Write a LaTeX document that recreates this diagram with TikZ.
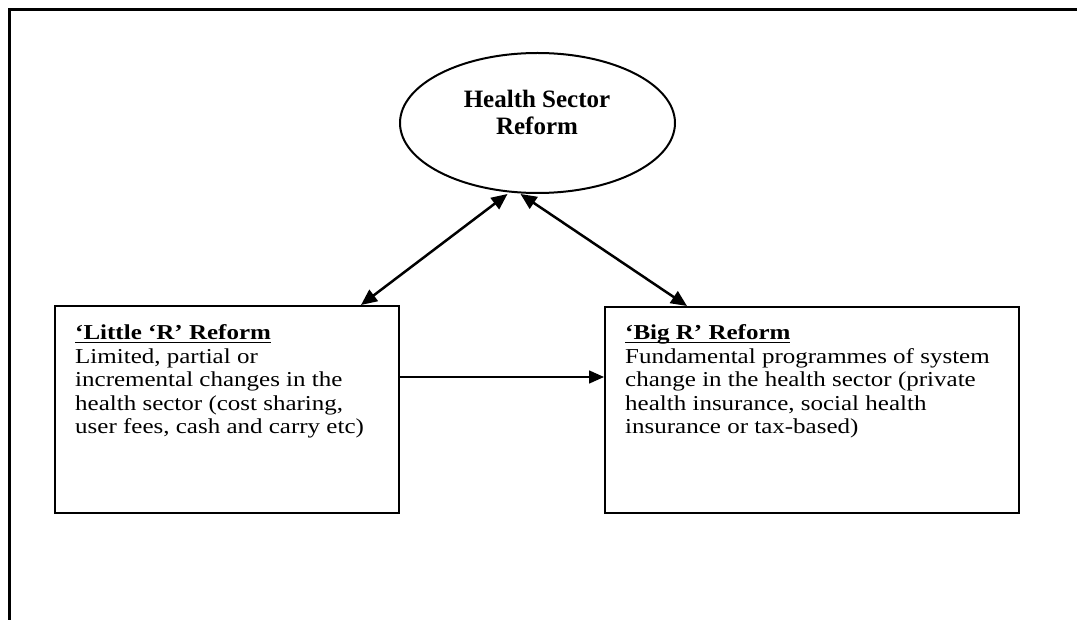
\documentclass[tikz,border=0pt]{standalone}
\usepackage{graphicx}
\usepackage{fontspec}
\setmainfont{Liberation Serif}
\usetikzlibrary{arrows.meta,shapes.geometric}
\newcommand\myul[1]{\setbox0\hbox{#1}\rlap{\rule[-4pt]{\wd0}{2pt}}\box0}
\newcommand\sq[1]{\scalebox{1}[0.85]{#1}}
\tikzset{
  frameline/.style={line width=3pt},
  oval/.style={draw, ellipse, line width=2pt, inner sep=0pt},
  box/.style={draw, rectangle, line width=2pt, inner sep=0pt},
  boxline/.style={inner sep=0pt, anchor=base west, font=\fontsize{25}{25}\selectfont},
  ovalline/.style={inner sep=0pt, anchor=base, font=\bfseries\fontsize{25}{27}\selectfont},
  darrow/.style={line width=2.5pt, {Triangle[length=16pt,width=14pt]}-{Triangle[length=16pt,width=14pt]}},
  harrow/.style={line width=1.6pt, -{Triangle[length=15pt,width=13pt]}},
}
\begin{document}
\begin{tikzpicture}[x=1pt,y=-1pt]
\useasboundingbox (0,0) rectangle (1077,620);
\fill[white] (0,0) rectangle (1077,620);
\draw[frameline] (9,620) -- (9,10) -- (1077,10);
% ellipse
\node[oval, minimum width=275pt, minimum height=140pt] (hsr) at (537.5,123) {};
\node[ovalline] (hsr1) at (537,108) {Health Sector};
\node[ovalline] (hsr2) at (537,135) {Reform};
% boxes
\node[box, minimum width=344pt, minimum height=207pt] (little) at (227,409.5) {};
\node[box, minimum width=414pt, minimum height=206pt] (big) at (812,410) {};
% left box text
\node[boxline] (l1) at (75,340) {\sq{\bfseries\myul{‘Little ‘R’ Reform}}};
\node[boxline] (l2) at (75,363.5) {\sq{Limited, partial or}};
\node[boxline] (l3) at (75,387) {\sq{incremental changes in the}};
\node[boxline] (l4) at (75,410.5) {\sq{health sector (cost sharing,}};
\node[boxline] (l5) at (75,434) {\sq{user fees, cash and carry etc)}};
% right box text
\node[boxline] (r1) at (625,340) {\sq{\bfseries\myul{‘Big R’ Reform}}};
\node[boxline] (r2) at (625,363.5) {\sq{Fundamental programmes of system}};
\node[boxline] (r3) at (625,387) {\sq{change in the health sector (private}};
\node[boxline] (r4) at (625,410.5) {\sq{health insurance, social health}};
\node[boxline] (r5) at (625,434) {\sq{insurance or tax-based)}};
% connectors
\draw[darrow] ([xshift=-30pt]hsr.south) -- ([xshift=-39pt]little.north east);
\draw[darrow] ([xshift=-17pt]hsr.south) -- ([xshift=83pt]big.north west);
\draw[harrow] ([yshift=32.5pt]little.east) -- ([yshift=33pt]big.west);
\end{tikzpicture}
\end{document}
